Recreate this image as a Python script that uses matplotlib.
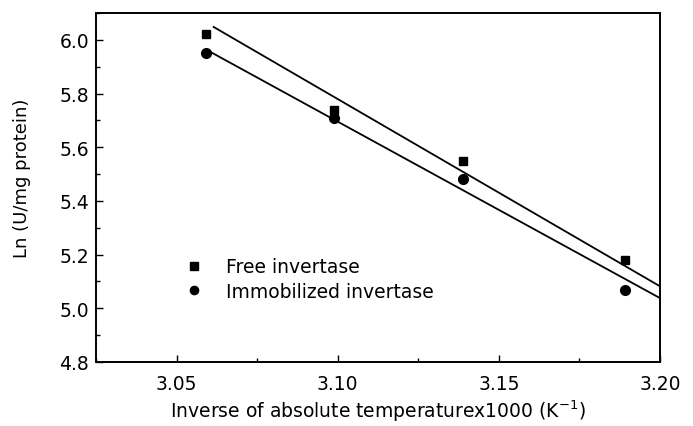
import matplotlib
matplotlib.use("Agg")
import matplotlib.pyplot as plt
from matplotlib.ticker import MultipleLocator

plt.rcParams['font.family'] = ['DejaVu Sans']
plt.rcParams['mathtext.default'] = 'regular'

# Data
inv_temp = [3.059, 3.099, 3.139, 3.189]
free_ln = [6.02, 5.74, 5.55, 5.18]
immob_ln = [5.95, 5.71, 5.48, 5.07]
# fitted lines (endpoints)
free_fit_x = [3.0615, 3.200]
free_fit_y = [6.048, 5.082]
immob_fit_x = [3.0605, 3.200]
immob_fit_y = [5.955, 5.038]

x_ticks = [3.05, 3.10, 3.15, 3.20]
x_ticklabels = ['3.05', '3.10', '3.15', '3.20']
y_ticks = [4.8, 5.0, 5.2, 5.4, 5.6, 5.8, 6.0]
y_ticklabels = ['4.8', '5.0', '5.2', '5.4', '5.6', '5.8', '6.0']

fig = plt.figure(figsize=(6.93, 4.27), dpi=100)
ax = fig.add_axes([96/693, 1-363/427, (660-96)/693, (363-14)/427])

ax.plot(free_fit_x, free_fit_y, color='black', lw=1.3)
ax.plot(immob_fit_x, immob_fit_y, color='black', lw=1.3)
ax.plot(inv_temp, free_ln, 's', color='black', ms=6.0, label='Free invertase', clip_on=False)
ax.plot(inv_temp, immob_ln, 'o', color='black', ms=7, label='Immobilized invertase', clip_on=False)

ax.set_xlim(3.025, 3.20)
ax.set_ylim(4.8, 6.1)
ax.set_xticks(x_ticks)
ax.set_xticklabels(x_ticklabels)
ax.set_yticks(y_ticks)
ax.set_yticklabels(y_ticklabels)
ax.xaxis.set_minor_locator(MultipleLocator(0.025))
ax.yaxis.set_minor_locator(MultipleLocator(0.1))
ax.tick_params(which='both', direction='in', labelsize=13.5, top=False, right=False)
ax.tick_params(which='major', length=5, width=1)
ax.tick_params(which='minor', length=3, width=1)
ax.tick_params(axis='x', pad=9)
ax.tick_params(axis='y', pad=5)
for s in ax.spines.values():
    s.set_linewidth(1.4)

ax.set_xlabel('Inverse of absolute temperaturex1000 (K$^{-1}$)', fontsize=13.5, labelpad=3)
ax.set_ylabel('Ln (U/mg protein)', fontsize=13)
ax.yaxis.set_label_coords(-0.115, 0.53)

ax.legend(loc='upper left', bbox_to_anchor=(0.158, 0.30), frameon=False, fontsize=13.5,
          handlelength=1.0, handletextpad=1.2, labelspacing=0.3, borderpad=0, borderaxespad=0,
          markerscale=0.85)

fig.savefig('out.png', dpi=100)
